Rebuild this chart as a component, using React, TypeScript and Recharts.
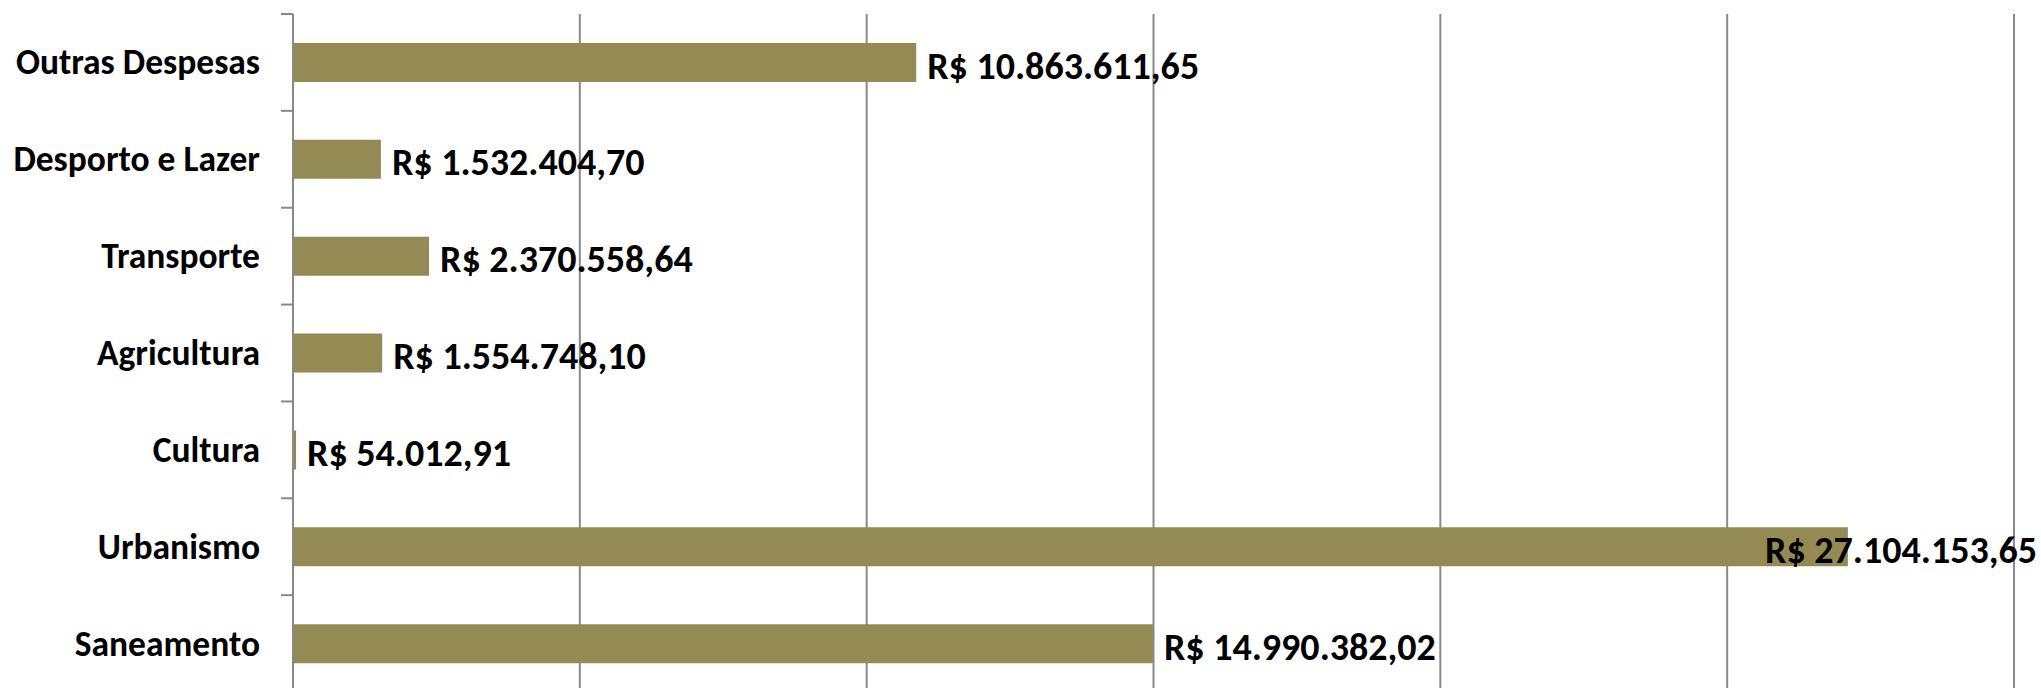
import React from 'react';
import { BarChart, Bar, XAxis, YAxis, CartesianGrid, LabelList } from 'recharts';

const categories = [
  'Outras Despesas',
  'Desporto e Lazer',
  'Transporte',
  'Agricultura',
  'Cultura',
  'Urbanismo',
  'Saneamento',
];
const values = [10863611.65, 1532404.7, 2370558.64, 1554748.1, 54012.91, 27104153.65, 14990382.02];
const xTicks = [0, 5000000, 10000000, 15000000, 20000000, 25000000, 30000000];

const data = categories.map((name, i) => ({ name, value: values[i] }));

const W = 2041;
const H = 700;
const M = { top: 14, right: 27, left: 0, bottom: 8 };
const FONT_FAMILY = "Carlito, 'Liberation Sans Narrow', 'DejaVu Sans Condensed', sans-serif";
const CAT_FONT_SIZE = 35.5;
const VAL_FONT_SIZE = 38;
const BAR_COLOR = '#948A54';
const GRID = '#898989';

const formatBRL = (v: number) => {
  const [intPart, dec] = v.toFixed(2).split('.');
  const grouped = intPart.replace(/\B(?=(\d{3})+(?!\d))/g, '.');
  return `R$ ${grouped},${dec}`;
};

let ctx: CanvasRenderingContext2D | null = null;
const measure = (text: string) => {
  if (!ctx) {
    const c = document.createElement('canvas');
    ctx = c.getContext('2d');
  }
  if (!ctx) return text.length * VAL_FONT_SIZE * 0.5;
  ctx.font = `bold ${VAL_FONT_SIZE}px ${FONT_FAMILY}`;
  return ctx.measureText(text).width;
};

const band = (H - M.top - M.bottom) / categories.length;

const CategoryTick = (props: any) => {
  const { x, y, payload, index } = props;
  const isLast = index === categories.length - 1;
  return (
    <g>
      <text
        x={x - 33}
        y={y}
        textAnchor="end"
        dominantBaseline="central"
        fontFamily={FONT_FAMILY}
        fontSize={CAT_FONT_SIZE}
        fontWeight="bold"
        fill="#000"
      >
        {payload.value}
      </text>
      <line x1={x - 12} x2={x} y1={y - band / 2} y2={y - band / 2} stroke={GRID} strokeWidth={2} />
      {isLast && (
        <line x1={x - 12} x2={x} y1={y + band / 2} y2={y + band / 2} stroke={GRID} strokeWidth={2} />
      )}
    </g>
  );
};

const ValueLabel = (props: any) => {
  const { x, y, width, height, value } = props;
  const text = formatBRL(Number(value));
  const end = Number(x) + Number(width);
  const tw = measure(text);
  let tx = end + 11;
  let anchor: 'start' | 'end' = 'start';
  if (tx + tw > W - 4) {
    tx = W - 4;
    anchor = 'end';
  }
  return (
    <text
      x={tx}
      y={Number(y) + Number(height) / 2 + 3}
      textAnchor={anchor}
      dominantBaseline="central"
      fontFamily={FONT_FAMILY}
      fontSize={VAL_FONT_SIZE}
      fontWeight="bold"
      fill="#000"
    >
      {text}
    </text>
  );
};

export default function App() {
  return (
    <div
      style={{
        position: 'absolute',
        top: 0,
        left: 0,
        width: W,
        height: 688,
        overflow: 'hidden',
        background: '#fff',
      }}
    >
      <BarChart width={W} height={H} data={data} layout="vertical" margin={M}>
        <CartesianGrid vertical horizontal={false} stroke={GRID} strokeWidth={2} />
        <XAxis type="number" domain={[0, 30000000]} ticks={xTicks} hide />
        <YAxis
          type="category"
          dataKey="name"
          width={293}
          axisLine={{ stroke: GRID, strokeWidth: 2 }}
          tickLine={false}
          tickSize={0}
          tickMargin={0}
          tick={<CategoryTick />}
          interval={0}
        />
        <Bar dataKey="value" fill={BAR_COLOR} barSize={39} isAnimationActive={false}>
          <LabelList dataKey="value" content={<ValueLabel />} />
        </Bar>
      </BarChart>
    </div>
  );
}
